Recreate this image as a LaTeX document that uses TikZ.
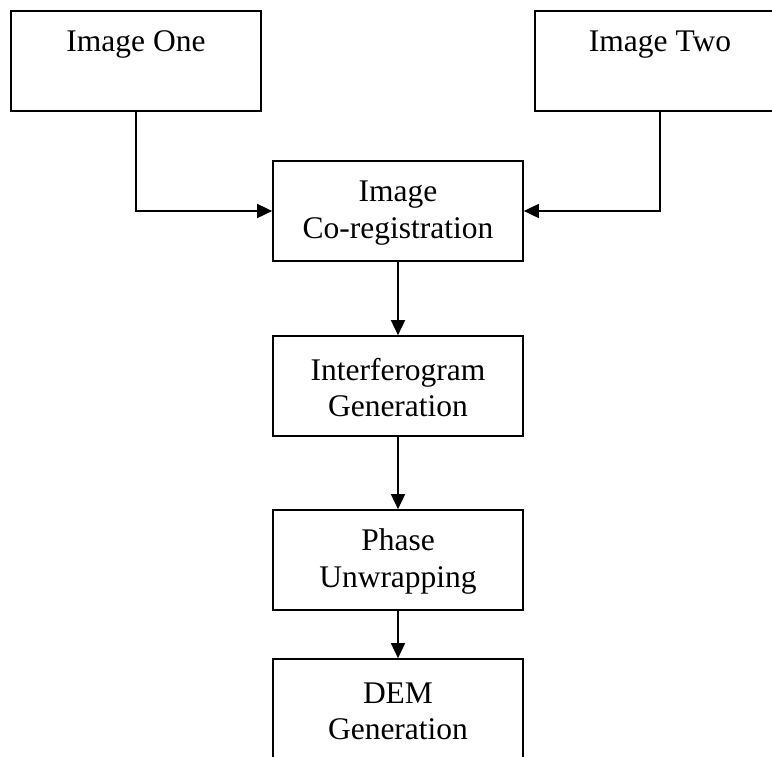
\documentclass[tikz,border=0pt]{standalone}
\usepackage{fontspec}
\setmainfont{Liberation Serif}
\usetikzlibrary{arrows.meta}
\newcommand{\boxstrut}{\rule{0pt}{25pt}}
\begin{document}
\begin{tikzpicture}[x=1pt,y=1pt,
  box/.style={draw=black, line width=1.7pt, minimum width=250pt, minimum height=100pt,
    inner sep=0pt, align=center, font=\fontsize{31.5}{36.7}\selectfont},
  arr/.style={draw=black, line width=1.7pt, -{Triangle[length=15pt,width=14pt]}}]
\useasboundingbox (0,0) rectangle (772,-756);
\fill[white] (0,0) rectangle (772,-756);
\clip (0,0) rectangle (772,-756);
\node[box] (one) at (136,-61) {\boxstrut Image One\\\vphantom{g}};
\node[box] (two) at (660,-61) {\boxstrut Image Two\\\vphantom{g}};
\node[box] (coreg) at (398,-211) {\boxstrut Image\\Co-registration};
\node[box] (interf) at (398,-386) {\boxstrut Interferogram\\Generation};
\node[box] (phase) at (398,-560) {\boxstrut Phase\\Unwrapping};
\node[box] (dem) at (398,-709) {\boxstrut DEM\\Generation};
\draw[arr] (one.south) |- (coreg.west);
\draw[arr] (two.south) |- (coreg.east);
\draw[arr] (coreg) -- (interf);
\draw[arr] (interf) -- (phase);
\draw[arr] (phase) -- (dem);
\end{tikzpicture}
\end{document}
